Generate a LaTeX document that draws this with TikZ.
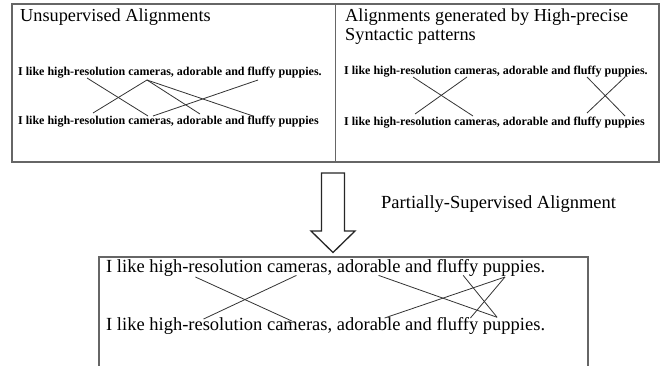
\documentclass[tikz,border=0pt]{standalone}
\usepackage{fontspec}
\setmainfont{Liberation Serif}
\begin{document}
\begin{tikzpicture}[x=1pt,y=-1pt,
  frame/.style={draw=black!60, line width=1.1pt},
  title/.style={anchor=base west, inner sep=0pt, font=\fontsize{18.3}{22}\selectfont},
  small/.style={anchor=base west, inner sep=0pt, font=\fontsize{12}{14}\selectfont\bfseries},
  big/.style={anchor=base west, inner sep=0pt, font=\fontsize{18.5}{22}\selectfont},
  link/.style={draw=black!80, line width=0.8pt}]
\useasboundingbox (0,0) rectangle (660,366);
% top boxes
\draw[frame] (12,4) rectangle (335.5,162);
\draw[frame] (335.5,4) rectangle (659,162);
\node[title] (tl) at (20,21.7) {Unsupervised Alignments};
\node[title] (tr1) at (345,21.7) {Alignments generated by High-precise};
\node[title] (tr2) at (345,40.7) {Syntactic patterns};
\node[small] (la) at (18,75.5) {I like high-resolution cameras, adorable and fluffy puppies.};
\node[small] (lb) at (18,125) {I like high-resolution cameras, adorable and fluffy puppies};
\node[small] (ra) at (344,74.5) {I like high-resolution cameras, adorable and fluffy puppies.};
\node[small] (rb) at (344,125.5) {I like high-resolution cameras, adorable and fluffy puppies};
% left alignments
\coordinate (la-high) at (87,78);
\coordinate (la-cam) at (147,80);
\coordinate (la-fluffy) at (258,80);
\coordinate (lb-high) at (93,113);
\coordinate (lb-cam) at (148,116);
\coordinate (lb-cam2) at (153,116);
\coordinate (lb-ador) at (200,114);
\coordinate (lb-fluffy) at (253,116);
\draw[link] (la-high) -- (lb-cam);
\draw[link] (la-cam) -- (lb-high);
\draw[link] (la-cam) -- (lb-ador);
\draw[link] (la-cam) -- (lb-fluffy);
\draw[link] (la-fluffy) -- (lb-cam2);
% right alignments
\coordinate (ra-high) at (413,77);
\coordinate (ra-cam) at (467,77);
\coordinate (ra-fluffy) at (587,77);
\coordinate (ra-pup) at (625,77);
\coordinate (rb-high) at (415,114);
\coordinate (rb-cam) at (473,116);
\coordinate (rb-fluffy) at (587,113);
\coordinate (rb-pup) at (625,116);
\draw[link] (ra-high) -- (rb-cam);
\draw[link] (ra-cam) -- (rb-high);
\draw[link] (ra-fluffy) -- (rb-pup);
\draw[link] (ra-pup) -- (rb-fluffy);
% arrow
\draw[black!85, line width=1.3pt, line join=miter, fill=white]
  (321.5,173) -- (344.5,173) -- (344.5,231) -- (355,231) -- (333,252.5)
  -- (311,231) -- (321.5,231) -- cycle;
\node[big] (psa) at (381,208) {Partially-Supervised Alignment};
% bottom box
\draw[frame] (99,372) -- (99,257) -- (588,257) -- (588,372);
\node[big] (ba) at (106,272) {I like high-resolution cameras, adorable and fluffy puppies.};
\node[big] (bb) at (106,330) {I like high-resolution cameras, adorable and fluffy puppies.};
\coordinate (ba-high) at (195.4,277);
\coordinate (ba-cam) at (296.4,275.4);
\coordinate (ba-ador) at (378.6,275.4);
\coordinate (ba-fluffy) at (463.2,275.4);
\coordinate (ba-pup) at (505,277);
\coordinate (bb-high) at (203.6,319);
\coordinate (bb-cam) at (291.8,321);
\coordinate (bb-ador) at (384.6,318);
\coordinate (bb-fluffy) at (470.4,318);
\coordinate (bb-pup) at (497.1,317.3);
\draw[link] (ba-high) -- (bb-cam);
\draw[link] (ba-cam) -- (bb-high);
\draw[link] (ba-ador) -- (bb-pup);
\draw[link] (ba-fluffy) -- (bb-pup);
\draw[link] (ba-pup) -- (bb-ador);
\draw[link] (ba-pup) -- (bb-fluffy);
\end{tikzpicture}
\end{document}
